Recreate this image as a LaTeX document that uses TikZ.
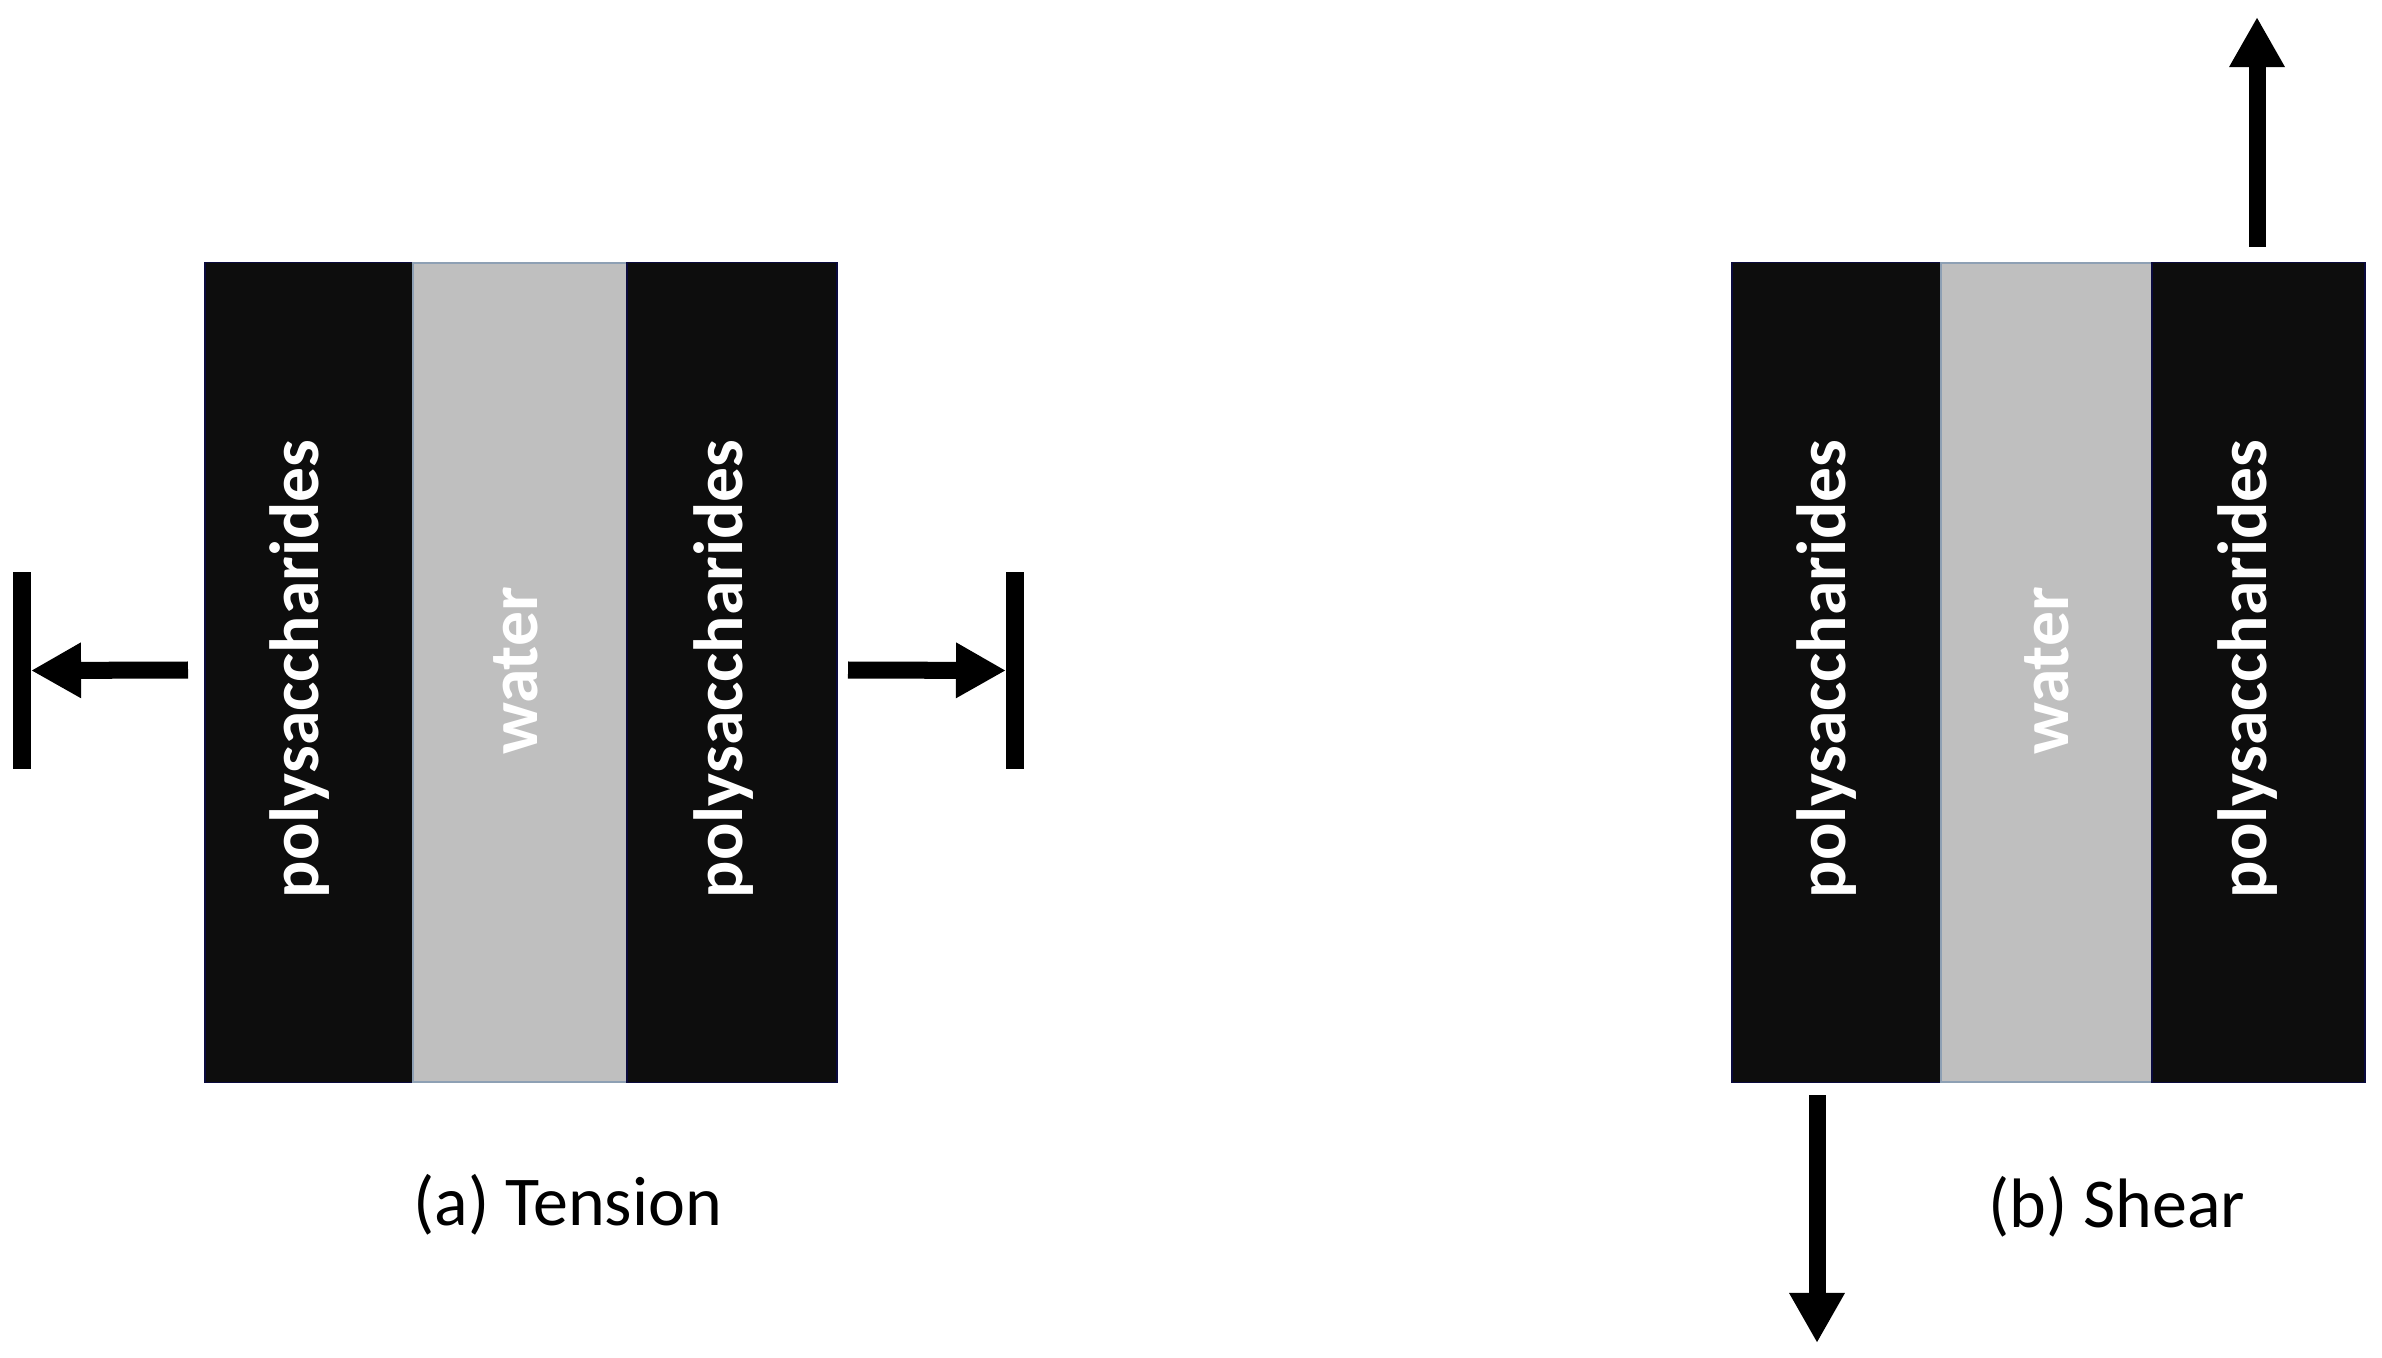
\documentclass[tikz,border=0pt]{standalone}
\usepackage{fontspec}
\setmainfont{Carlito}
\usetikzlibrary{arrows.meta, positioning}

\definecolor{polyblack}{HTML}{0D0D0D}
\definecolor{watergray}{HTML}{BFBFBF}
\definecolor{wateredge}{HTML}{8EA0B4}

\begin{document}
\begin{tikzpicture}[
    x=0.01cm, y=-0.01cm,
    poly/.style={rectangle, fill=polyblack, draw=polyblack!80!blue,
                 line width=0.4pt, inner sep=0pt, outer sep=0pt,
                 minimum height=8.19cm},
    water/.style={rectangle, fill=watergray, draw=wateredge,
                  line width=0.5pt, inner sep=0pt, outer sep=0pt,
                  minimum height=8.19cm},
    lbl/.style={rotate=90, anchor=base, text=white, inner sep=0pt,
                font=\fontsize{19.8}{24}\selectfont\bfseries},
    caption/.style={anchor=base west, inner sep=0pt,
                font=\fontsize{19.9}{24}\selectfont},
    bar/.style={rectangle, fill=black, inner sep=0pt, outer sep=0pt,
                minimum width=0.18cm, minimum height=1.97cm},
    force/.style={-{Triangle[length=0.5cm, width=0.52cm]},
                  line width=0.17cm, draw=black},
]

% --- canvas ---
\useasboundingbox (0,0) rectangle (2382,1358);

% ============================================================
%  (a) Tension
% ============================================================
\node (tpl) [poly,  minimum width=2.08cm] at (309,672.5) {};
\node (tw)  [water, minimum width=2.14cm] at (520,672.5) {};
\node (tpr) [poly,  minimum width=2.10cm] at (732,672.5) {};

\node (tpltxt) [lbl] at (318,669) {polysaccharides};
\node (twtxt)  [lbl] at (537,671) {water};
\node (tprtxt) [lbl] at (742,669) {polysaccharides};

% --- grips ---
\node (lbar) [bar] at (22,670.5) {};
\node (rbar) [bar] at (1015,670.5) {};
\coordinate (lstart) at (188,670);
\coordinate (rstart) at (848,670);

\draw [force] (lstart) -- (lbar.east);
\draw [force] (rstart) -- (rbar.west);

\node (tcap) [caption] at (413,1225) {(a) Tension};

% ============================================================
%  (b) Shear
% ============================================================
\node (spl) [poly,  minimum width=2.09cm] at (1836.5,672.5) {};
\node (sw)  [water, minimum width=2.11cm] at (2046.5,672.5) {};
\node (spr) [poly,  minimum width=2.13cm] at (2258.5,672.5) {};

\node (spltxt) [lbl] at (1845,669) {polysaccharides};
\node (swtxt)  [lbl] at (2068,671) {water};
\node (sprtxt) [lbl] at (2266,669) {polysaccharides};

% --- shear forces ---
\coordinate (upstart) at (2257,247);
\coordinate (upend)   at (2257,17);
\coordinate (dnstart) at (1817,1095);
\coordinate (dnend)   at (1817,1343);

\draw [force] (upstart) -- (upend);
\draw [force] (dnstart) -- (dnend);

\node (scap) [caption] at (1988,1227) {(b) Shear};

\end{tikzpicture}
\end{document}
